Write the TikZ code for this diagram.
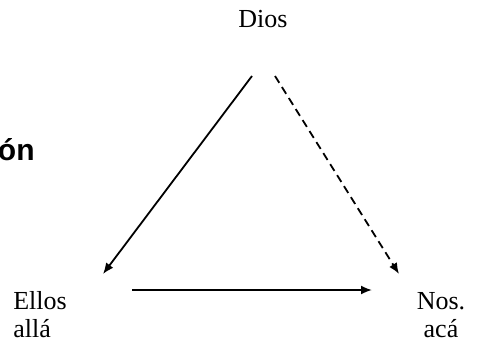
\documentclass[tikz,border=0pt]{standalone}
\usepackage{fontspec}
\setmainfont{Liberation Serif}
\newfontfamily\headsans{Liberation Sans}
\usetikzlibrary{arrows.meta, calc}

\begin{document}
\begin{tikzpicture}[
    x=0.5pt, y=-0.5pt,
    vertex/.style={inner sep=0pt, font=\fontsize{13pt}{14pt}\selectfont},
    arrow/.style={-{Latex[length=5.5pt, width=4.5pt]}, line width=0.9pt},
    faint/.style={arrow, dash pattern=on 4pt off 2.5pt}
]
    \useasboundingbox (0,0) rectangle (481,342);

    \node[vertex] (dios) at (263,19) {Dios};
    \node[vertex, align=left] (ellos) at (40,315) {Ellos\\allá};
    \node[vertex, align=center] (nos) at (441,315) {Nos.\\acá};
    \node[inner sep=0pt, anchor=base east, font=\headsans\bfseries\fontsize{15pt}{17pt}\selectfont] (rel) at (35,160) {ón};

    \draw[arrow] ($(dios)+(-11,57)$) -- ($(ellos)+(63,-41)$);
    \draw[faint] ($(dios)+(12,57)$) -- ($(nos)+(-42,-41)$);
    \draw[arrow] ($(ellos)+(92,-25)$) -- ($(nos)+(-69,-25)$);
\end{tikzpicture}
\end{document}
